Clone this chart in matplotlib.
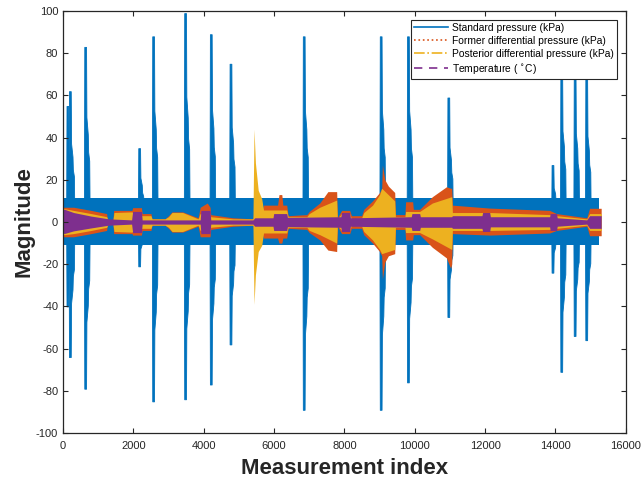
import numpy as np
import matplotlib
matplotlib.use('Agg')
import matplotlib.pyplot as plt
from matplotlib.lines import Line2D

plt.rcParams['font.family'] = ['Liberation Sans', 'DejaVu Sans']
plt.rcParams['mathtext.fontset'] = 'dejavusans'
plt.rcParams['axes.unicode_minus'] = False

# MATLAB default colours
c_std = '#0072BD'
c_former = '#D95319'
c_post = '#EDB120'
c_temp = '#7E2F8E'

# Standard pressure: steady band plus spikes (index, positive peak, negative peak)
band_end = 15250
band_hi, band_lo = 11.2, -10.9
spike_idx = [100, 170, 605, 2140, 2537, 3446, 4176, 4736, 6818,
             9006, 9781, 10929, 13890, 14140, 14520, 14850]
spike_up = [55, 62, 83, 35, 88, 99, 89, 75, 88, 88, 88, 59, 27, 72, 70, 68]
spike_dn = [-40, -64, -79, -21, -85, -84, -77, -58, -89, -89, -76, -45, -24, -71, -54, -56]
# decay of a spike (offset from spike start, fraction of peak)
tail_off = [-10, 0, 50, 60, 100, 110, 140, 150]
tail_frac = [0.1, 1.0, 1.0, 0.6, 0.5, 0.4, 0.35, 0.1]

# Former differential pressure envelope
fdp_x = [0, 50, 300, 800, 1240, 1260, 1420, 1440, 1960, 1980, 2230, 2250, 2500, 2530,
         2900, 3000, 3100, 3400, 3840, 3900, 4100, 4180, 4200, 4830, 5400, 5430,
         5650, 5700, 6100, 6140, 6220, 6250, 6360, 6400, 6930, 7000, 7300, 7530,
         7780, 7800, 7920, 8150, 8200, 8490, 8550, 8800, 9000, 9060, 9080, 9150,
         9250, 9430, 9450, 9720, 9740, 9940, 9960, 10140, 10500, 10900, 11020,
         11050, 11070, 12130, 13835, 14030, 14890, 14970, 15250, 15300]
fdp_hi = [7, 7, 7, 5.5, 4, 1.2, 1.2, 5.5, 5.5, 6.8, 6.8, 4, 4, 1.5,
          1.5, 3, 4.8, 4.8, 2, 7, 9, 7, 3.5, 2, 1.5, 5,
          5, 8, 8, 13, 13, 8, 8, 3, 3.5, 5, 9, 14.4,
          14.4, 2, 5.5, 5.5, 3, 3, 6, 10, 14, 16, 27, 20,
          17, 14, 3.5, 3.5, 9.6, 9.6, 6, 6, 12, 16.7, 16,
          16, 8, 6.6, 5.5, 4, 2, 6.5, 6.5, 6.5]
fdp_lo = [-7, -7, -7, -5.5, -4, -1.2, -1.2, -5.5, -5.5, -6.2, -6.2, -4, -4, -1.5,
          -1.5, -3, -4.8, -4.8, -2, -7, -7, -7, -3.5, -2, -1.5, -5,
          -5, -7.6, -7.6, -10, -10, -7.6, -7.6, -3, -3.5, -5, -8.5, -13.3,
          -14, -2, -5.5, -5.5, -3, -3, -6, -10, -14, -16, -27, -19,
          -16, -15, -3.5, -3.5, -8.5, -8.5, -6, -6, -12, -17, -22,
          -20, -5.5, -6.2, -5.2, -4, -2, -6.5, -6.5, -6.5]

# Posterior differential pressure envelope
pdp_x = [0, 50, 300, 800, 1240, 1280, 1420, 1450, 1950, 2245, 2500, 2530, 2900, 3000,
         3100, 3400, 3840, 3900, 4180, 4200, 4830, 5400, 5430, 5470, 5550, 5650,
         5700, 6360, 6400, 6930, 7000, 7300, 7780, 7800, 7920, 8150, 8200, 8490,
         8550, 8800, 9000, 9060, 9430, 9450, 9720, 9740, 9940, 10140, 10500,
         11050, 11070, 12130, 13835, 14030, 14890, 14970, 15250, 15300]
pdp_hi = [6.3, 6.3, 5.5, 4, 2.5, 1, 1, 4.5, 4.8, 3, 3, 1.5, 1.5, 2.5,
          4.5, 4.5, 1.5, 4, 4, 2.5, 1.5, 1.5, 44, 28, 15, 11,
          5.7, 5.7, 2.5, 2.5, 4, 7, 10.4, 1.5, 4, 4, 1.5, 2,
          4.5, 8, 13, 16, 10, 2.5, 2.5, 5, 5, 5, 9,
          12, 4.5, 4.5, 3.5, 3, 1.5, 4, 4, 4]
pdp_lo = [-6, -6, -5.5, -4, -2.5, -1, -1, -4.5, -4.8, -3, -3, -1.5, -1.5, -2.5,
          -4.5, -4.5, -1.5, -4, -4, -2.5, -1.5, -1.5, -39, -25, -14, -11,
          -5.2, -5.2, -2.5, -2.5, -4, -6, -10, -1.5, -4, -4, -1.5, -2,
          -4.5, -8.5, -13, -15, -13, -2.5, -2.5, -5, -5, -5, -8,
          -13, -4, -4, -3.5, -3, -1.5, -4, -4, -4]

# Temperature envelope
tmp_x = [0, 50, 300, 800, 1300, 1950, 1980, 2230, 2250, 3900, 3920, 4180, 4200, 5400,
         5450, 5970, 5990, 6360, 6380, 7900, 7920, 8150, 8170, 9900, 9920, 10140,
         10160, 11050, 11070, 11910, 11930, 12130, 12150, 13835, 13850, 14030,
         14050, 14890, 14970, 15250, 15300]
tmp_hi = [6, 6, 4.5, 2.8, 1.5, 1, 5, 5, 1, 1, 5.5, 5.5, 1, 1,
          2, 2, 4, 4, 2.2, 2.5, 4.5, 4.5, 2, 2.5, 4, 4,
          2.5, 2.5, 3, 3, 4.5, 4.5, 2.5, 2.5, 4, 4,
          2, 1, 3, 3, 3]
tmp_lo = [-5.4, -5.4, -4.2, -2.8, -1.5, -1, -5, -5, -1, -1, -5.5, -5.5, -1, -1,
          -2, -2, -4, -4, -2.2, -2.5, -4.5, -4.5, -2, -2.5, -4, -4,
          -2.5, -2.5, -3, -3, -4.5, -4.5, -2.3, -2.3, -4, -4,
          -2, -1, -3, -3, -3]

fig = plt.figure(figsize=(6.41, 4.83), dpi=100)
ax = fig.add_axes([0.0983, 0.1035, 0.878, 0.8737])

# standard pressure
ax.fill_between([0, band_end], band_lo, band_hi, color=c_std, lw=0)
for p, u, d in zip(spike_idx, spike_up, spike_dn):
    xs = np.array(tail_off) + p
    fr = np.array(tail_frac)
    ax.fill_between(xs, d * fr, u * fr, facecolor=c_std, edgecolor=c_std, lw=0.6)

ax.fill_between(fdp_x, fdp_lo, fdp_hi, color=c_former, lw=0)
ax.fill_between(pdp_x, pdp_lo, pdp_hi, color=c_post, lw=0)
ax.fill_between(tmp_x, tmp_lo, tmp_hi, color=c_temp, lw=0)

ax.set_xlim(0, 16000)
ax.set_ylim(-100, 100)
ax.set_xticks(np.arange(0, 16001, 2000))
ax.set_yticks(np.arange(-100, 101, 20))

dark = '#262626'
for s in ax.spines.values():
    s.set_color(dark)
    s.set_linewidth(0.9)
ax.tick_params(direction='in', top=True, right=True, length=3.5, width=0.8,
               colors=dark, labelsize=8)
ax.tick_params(axis='x', pad=5.5)
ax.tick_params(axis='y', pad=3.5)

ax.set_xlabel('Measurement index', fontsize=16, fontweight='bold', color=dark, labelpad=5)
ax.set_ylabel('Magnitude', fontsize=16, fontweight='bold', color=dark, labelpad=1)

handles = [Line2D([], [], color=c_std, lw=1.2, ls='-'),
           Line2D([], [], color=c_former, lw=1.2, ls=':'),
           Line2D([], [], color=c_post, lw=1.2, ls='-.'),
           Line2D([], [], color=c_temp, lw=1.2, ls=(0, (5, 4)))]
labels = ['Standard pressure (kPa)', 'Former differential pressure (kPa)',
          'Posterior differential pressure (kPa)', r'Temperature ( $^{\circ}$C)']
leg = ax.legend(handles, labels, loc='upper right', fontsize=7.4, fancybox=False,
                framealpha=1, edgecolor=dark, handlelength=3.3, labelspacing=0.3,
                borderaxespad=0.85, borderpad=0.3, handletextpad=0.4)
leg.get_frame().set_linewidth(0.8)

fig.savefig('out.png', dpi=100)
